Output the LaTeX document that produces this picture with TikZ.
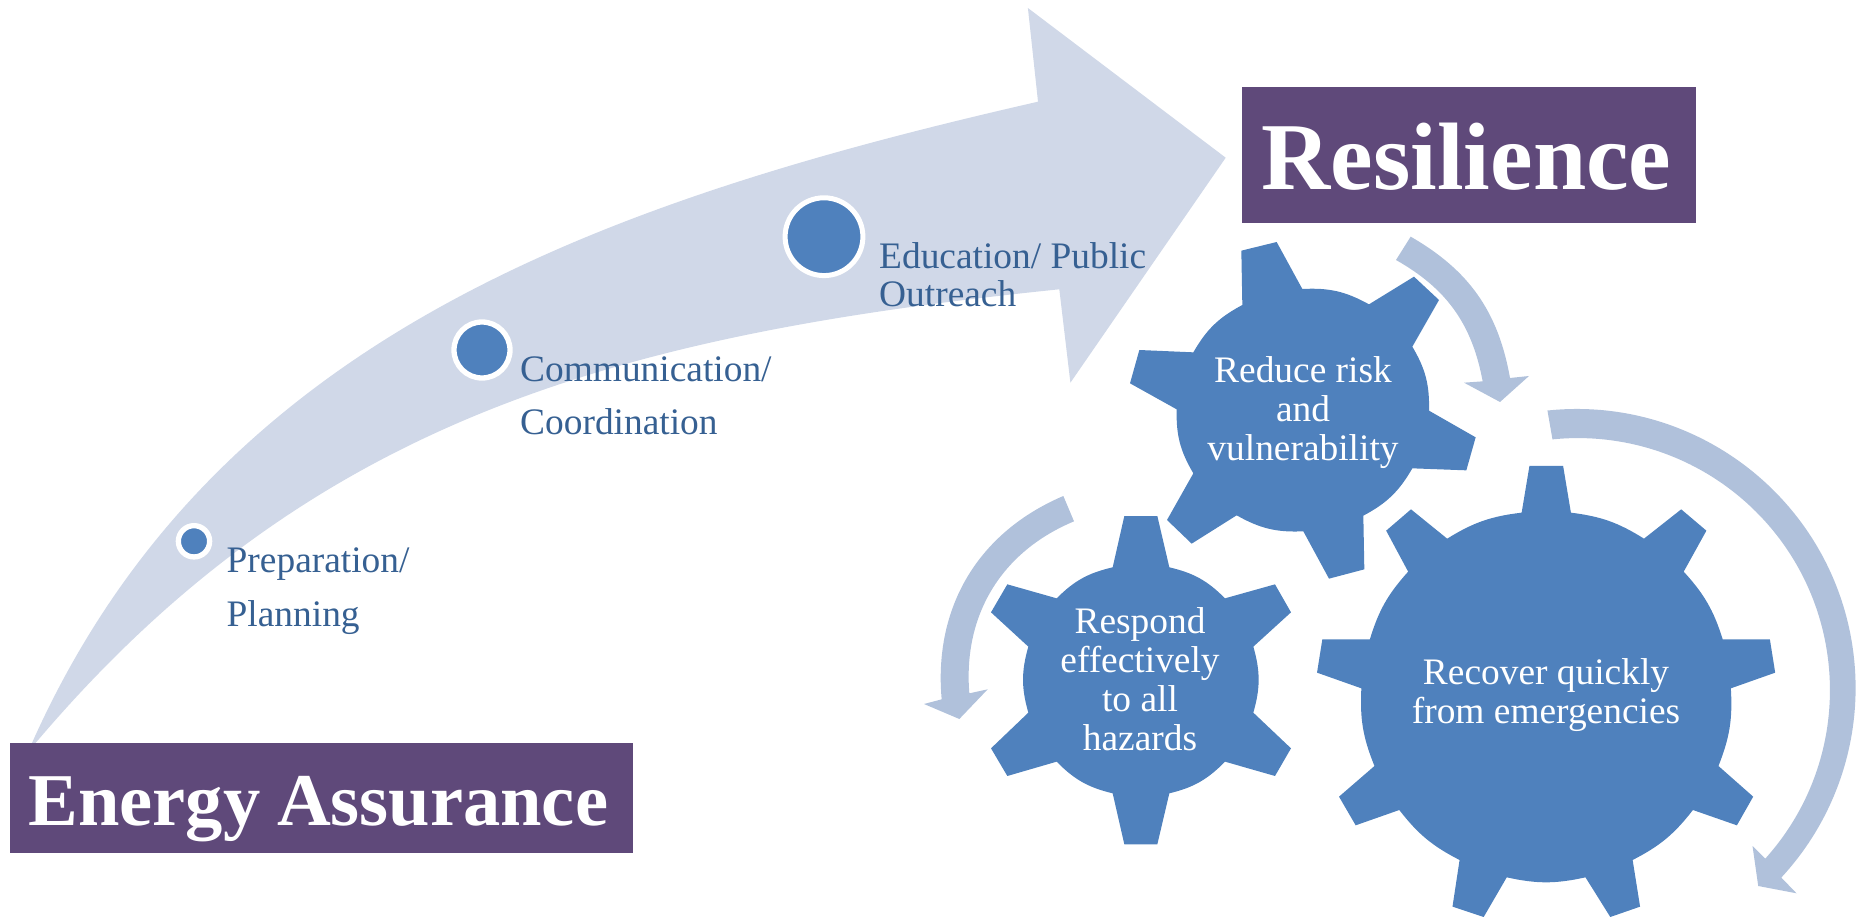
\documentclass[tikz,border=0pt]{standalone}
\usepackage{fontspec}
\setmainfont{Liberation Serif}
\definecolor{purplebox}{HTML}{5F497A}
\definecolor{gearblue}{HTML}{4F81BD}
\definecolor{palearrow}{HTML}{D0D8E8}
\definecolor{midarrow}{HTML}{B0C1DB}
\definecolor{labelblue}{HTML}{366092}
\tikzset{
  titlebox/.style={fill=purplebox,text=white,inner sep=0pt,align=center,font=\bfseries\fontsize{#1}{#1}\selectfont},
  dot/.style={circle,fill=gearblue,draw=white,inner sep=0pt},
  steplabel/.style={text=labelblue,inner sep=0pt,anchor=base west,align=left,font=\fontsize{37.4}{#1}\selectfont},
  gearlabel/.style={text=white,inner sep=0pt,anchor=base,align=center,font=\fontsize{37.4}{38.8}\selectfont},
  gearfill/.style={fill=gearblue},
  bendarrow/.style={fill=midarrow},
  garc/.style={bend left=16},
  harc/.style={bend left=12.5}
}
\begin{document}
\begin{tikzpicture}[x=1pt,y=-1pt]
\useasboundingbox (0,0) rectangle (1856,917);
\clip (0,0) rectangle (1856,917);
% big curved arrow
\fill[palearrow] (28,752) .. controls (205,345) and (585,205) .. (1038,101.7)
  -- (1027.9,8) -- (1225.7,157.7) -- (1070.4,382.7) -- (1059.3,289.3)
  .. controls (615,335) and (305,420) .. (28,752) -- cycle;
% stage dots
\node[dot,line width=5.3pt,minimum size=31.3pt] (dotA) at (194,541.3) {};
\node[dot,line width=5.3pt,minimum size=56pt] (dotB) at (482,350) {};
\node[dot,line width=5pt,minimum size=77.8pt] (dotC) at (824,236.7) {};
% stage labels
\node[steplabel=54] (labA) at (226.5,626.5) {Preparation/\\Planning};
\node[steplabel=53.4] (labB) at (520,434.5) {Communication/\\Coordination};
\node[steplabel=38] (labC) at (879,306.7) {Education/ Public\\Outreach};
% title boxes
\node[titlebox=95.8,text width=454pt,text height=102.3pt,text depth=33.7pt] (res) at (1469,155) {Resilience\hspace*{5pt}};
\node[titlebox=74.5,text width=622.7pt,text height=82pt,text depth=28pt] (ea) at (321.35,798) {Energy\kern-8pt{} Assurance\hspace*{6pt}};
% gear 1 and its arrow
\begin{scope}[shift={(1080,220)},x=0.33333pt,y=-0.33333pt]
\fill[gearfill] (484,92) -- (590,66) -- (667,207) to[garc] (867,253) -- (1002,170) -- (1077,240) -- (997,380)
  to[garc] (1047,572) -- (1187,652) -- (1159,751) -- (997,745) to[garc] (850,887) -- (853,1048) -- (747,1076)
  -- (670,934) to[garc] (470,886) -- (335,971) -- (261,900) -- (340,760) to[garc] (290,568) -- (150,490)
  -- (178,390) -- (340,397) to[garc] (487,255) -- cycle;
\fill[bendarrow] (992,50) to[bend left=25] (1290,474) -- (1347,468) -- (1260,546) -- (1152,488)
  -- (1208,484) to[bend right=25] (948,120) -- cycle;
\end{scope}
% gear 2 and its arrow
\begin{scope}[shift={(920,480)},x=0.33333pt,y=-0.33333pt]
\fill[gearfill] (613,108) -- (712,108) -- (748,262) to[garc] (915,355) -- (1065,313) -- (1113,397) -- (1000,500)
  to[garc] (1000,698) -- (1113,805) -- (1065,888) -- (915,845) to[garc] (748,940) -- (712,1093) -- (613,1093)
  -- (578,940) to[garc] (410,845) -- (262,888) -- (213,805) -- (325,698) to[garc] (325,500) -- (213,397)
  -- (262,313) -- (410,355) to[garc] (578,262) -- cycle;
\fill[bendarrow] (430,48) to[bend right=36] (65,658) -- (12,672) -- (118,717) -- (203,628)
  -- (148,640) to[bend left=36] (462,124) -- cycle;
\end{scope}
% gear 3
\begin{scope}[shift={(1300,400)},x=0.35461pt,y=-0.33333pt]
\fill[gearfill] (647,198) -- (742,198) -- (764,338) to[harc] (970,416) -- (1075,328) -- (1146,392) -- (1082,515)
  to[harc] (1192,718) -- (1325,718) -- (1340,818) -- (1215,865) to[harc] (1180,1098) -- (1278,1190)
  -- (1232,1276) -- (1108,1230) to[harc] (938,1380) -- (959,1520) -- (875,1551) -- (805,1432)
  to[harc] (583,1432) -- (518,1551) -- (430,1520) -- (450,1380) to[harc] (280,1230) -- (157,1276)
  -- (110,1190) -- (210,1098) to[harc] (173,865) -- (48,818) -- (63,718) -- (197,718)
  to[harc] (305,515) -- (243,392) -- (313,328) -- (415,416) to[harc] (625,338) -- cycle;
\end{scope}
% long arrow around gear 3
\coordinate (hub) at (1576.6,688);
\fill[bendarrow] (hub) ++(96:279pt) arc[start angle=96,end angle=-42.8,radius=279pt]
  -- (1796.5,893.3) -- (1758.2,886) -- (1752.5,846) -- (1765.2,858.7)
  arc[start angle=-42,end angle=95.8,radius=252pt] -- cycle;
% gear labels
\node[gearlabel] (g1) at (1303,460.5) {Reduce risk\\and\\vulnerability};
\node[gearlabel] (g2) at (1140,750) {Respond\\effectively\\to all\\hazards};
\node[gearlabel] (g3) at (1546,723) {Recover quickly\\from emergencies};
\end{tikzpicture}
\end{document}
